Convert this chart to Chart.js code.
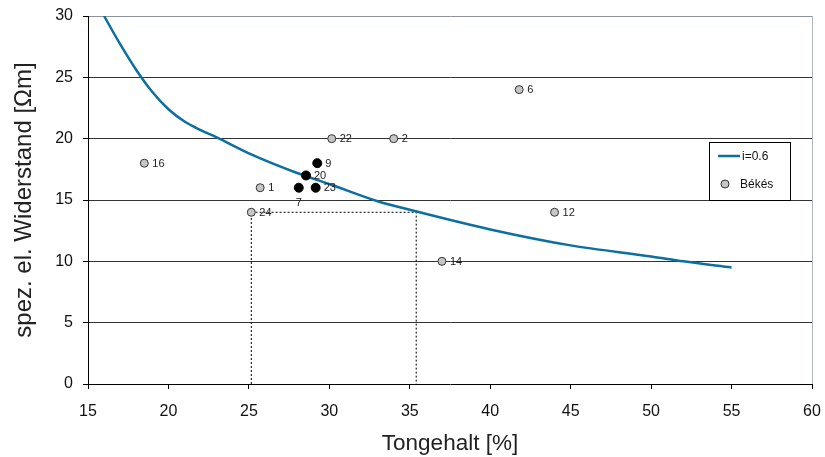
<!DOCTYPE html>
<html>
<head>
<meta charset="utf-8">
<script src="https://cdn.jsdelivr.net/npm/chart.js@4"></script>
<style>
  html, body { margin: 0; padding: 0; background: #fff; }
  #wrap { width: 825px; height: 457px; }
</style>
</head>
<body>
<div id="wrap"><canvas id="chart" width="825" height="457"></canvas></div>
<script>
// --- data ---
const curveX = [16, 17, 18, 19, 20, 21, 22, 23, 25, 28, 30, 33, 35, 40, 45, 50, 52, 55];
const curveY = [30, 27.7, 25.6, 23.8, 22.4, 21.4, 20.7, 20.1, 18.8, 17.2, 16.3, 14.9, 14.2, 12.6, 11.3, 10.4, 10.0, 9.5];

const bekesX = [18.5, 25.7, 34.0, 41.8, 44.0, 37.0, 30.15, 25.15];
const bekesY = [18, 16, 20, 24, 14, 10, 20, 14];
const bekesLabels = ['16', '1', '2', '6', '12', '14', '22', '24'];

const blackX = [29.25, 28.55, 28.1, 29.15];
const blackY = [18, 17, 16, 16];
const blackLabels = ['9', '20', '7', '23'];

// dotted guide: 25.1 -> curve at 35.4 (value 14)
const guideX = [25.15, 25.15, 35.4, 35.4];
const guideY = [0, 14, 14, 0];

const xTicks = [15, 20, 25, 30, 35, 40, 45, 50, 55, 60];
const yTicks = [0, 5, 10, 15, 20, 25, 30];

const FONT = "'Liberation Sans', Arial, sans-serif";

const toPts = (xs, ys) => xs.map((x, i) => ({ x: x, y: ys[i] }));

// labels next to the points (7 sits under its point)
const pointLabelPlugin = {
    id: 'pointLabels',
    afterDatasetsDraw(chart) {
        const ctx = chart.ctx;
        ctx.save();
        ctx.font = '11px ' + FONT;
        ctx.fillStyle = '#222';
        ctx.textBaseline = 'middle';
        chart.data.datasets.forEach((ds, i) => {
            if (!ds.pointLabels) return;
            chart.getDatasetMeta(i).data.forEach((el, j) => {
                const txt = ds.pointLabels[j];
                if (txt === '7') {
                    ctx.textAlign = 'center';
                    ctx.fillText(txt, el.x, el.y + 15);
                } else {
                    ctx.textAlign = 'left';
                    ctx.fillText(txt, el.x + 8, el.y + 0.5);
                }
            });
        });
        ctx.restore();
    }
};

// boxed legend inside the plot, right side
const boxLegendPlugin = {
    id: 'boxLegend',
    afterDraw(chart) {
        const ctx = chart.ctx;
        const left = 709, top = 142, w = 81, h = 58;
        ctx.save();
        ctx.fillStyle = '#fff';
        ctx.fillRect(left, top, w, h);
        ctx.strokeStyle = '#000';
        ctx.lineWidth = 1;
        ctx.strokeRect(left + 0.5, top + 0.5, w, h);

        ctx.strokeStyle = '#0b6fa0';
        ctx.lineWidth = 2.5;
        ctx.beginPath();
        ctx.moveTo(718, 156);
        ctx.lineTo(740, 156);
        ctx.stroke();

        ctx.beginPath();
        ctx.arc(725, 184, 4, 0, Math.PI * 2);
        ctx.fillStyle = '#c6c6c6';
        ctx.fill();
        ctx.lineWidth = 1;
        ctx.strokeStyle = '#333';
        ctx.stroke();

        ctx.font = '12px ' + FONT;
        ctx.fillStyle = '#111';
        ctx.textAlign = 'left';
        ctx.textBaseline = 'middle';
        ctx.fillText('i=0.6', 742, 157);
        ctx.fillText('Békés', 740, 185);
        ctx.restore();
    }
};

new Chart(document.getElementById('chart'), {
    type: 'scatter',
    data: {
        datasets: [
            {
                label: 'guide',
                type: 'line',
                data: toPts(guideX, guideY),
                borderColor: '#000',
                borderWidth: 1,
                borderDash: [2, 2],
                pointRadius: 0,
                fill: false,
                order: 3
            },
            {
                label: 'i=0.6',
                type: 'line',
                data: toPts(curveX, curveY),
                borderColor: '#0b6fa0',
                borderWidth: 2.5,
                pointRadius: 0,
                cubicInterpolationMode: 'monotone',
                fill: false,
                order: 2
            },
            {
                label: 'Békés',
                data: toPts(bekesX, bekesY),
                pointLabels: bekesLabels,
                backgroundColor: '#c6c6c6',
                borderColor: '#333',
                borderWidth: 1,
                pointRadius: 4,
                order: 1
            },
            {
                label: 'black',
                data: toPts(blackX, blackY),
                pointLabels: blackLabels,
                backgroundColor: '#000',
                borderColor: '#000',
                borderWidth: 1,
                pointRadius: 4.5,
                order: 0
            }
        ]
    },
    options: {
        responsive: false,
        animation: false,
        layout: { padding: { top: 16, right: 13, left: 0, bottom: 0 } },
        plugins: {
            legend: { display: false },
            tooltip: { enabled: false }
        },
        scales: {
            x: {
                type: 'linear',
                min: 15,
                max: 60,
                afterBuildTicks: (s) => { s.ticks = xTicks.map(v => ({ value: v })); },
                afterFit: (s) => { s.height = 73; s.paddingLeft = 0; s.paddingRight = 0; },
                border: { color: '#000', width: 1 },
                grid: {
                    drawOnChartArea: true,
                    color: (c) => c.tick && c.tick.value === 60 ? '#aeb6c2' : 'rgba(0,0,0,0)',
                    tickColor: '#000',
                    tickLength: 5
                },
                ticks: {
                    color: '#111',
                    font: { family: FONT, size: 16 },
                    padding: 13,
                    maxRotation: 0
                },
                title: {
                    display: true,
                    text: 'Tongehalt [%]',
                    color: '#222',
                    font: { family: FONT, size: 22.5 },
                    padding: { top: 2, bottom: 0 }
                }
            },
            y: {
                type: 'linear',
                min: 0,
                max: 30,
                afterBuildTicks: (s) => { s.ticks = yTicks.map(v => ({ value: v })); },
                afterFit: (s) => { s.width = 88; s.paddingTop = 0; s.paddingBottom = 0; },
                border: { color: '#000', width: 1 },
                grid: {
                    color: (c) => {
                        if (!c.tick) return 'rgba(0,0,0,0)';
                        if (c.tick.value === 0) return 'rgba(0,0,0,0)';
                        if (c.tick.value === 30) return '#8c929c';
                        return '#333';
                    },
                    tickColor: '#000',
                    tickLength: 5
                },
                ticks: {
                    color: '#111',
                    font: { family: FONT, size: 16 },
                    padding: 10
                },
                title: {
                    display: true,
                    text: 'spez. el. Widerstand [Ωm]',
                    color: '#222',
                    font: { family: FONT, size: 24 },
                    padding: { top: 10, bottom: 0 }
                }
            }
        }
    },
    plugins: [pointLabelPlugin, boxLegendPlugin]
});
</script>
</body>
</html>
